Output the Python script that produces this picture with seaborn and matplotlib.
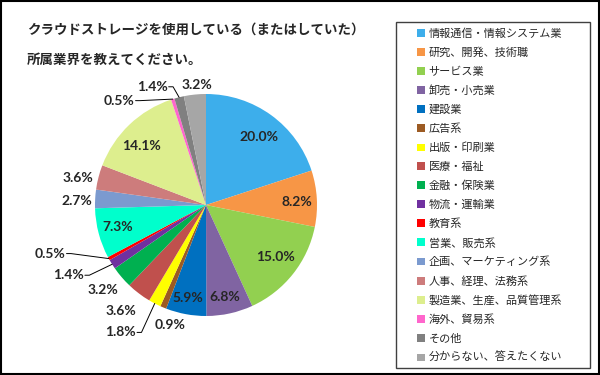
import numpy as np
import matplotlib
matplotlib.use('Agg')
import matplotlib.pyplot as plt
from matplotlib.patches import Patch, Rectangle
import seaborn as sns

sns.set_style('white')
plt.rcParams['font.family'] = ['Noto Sans CJK JP', 'DejaVu Sans']

# データ
industries = ['情報通信・情報システム業', '研究、開発、技術職', 'サービス業', '卸売・小売業',
              '建設業', '広告系', '出版・印刷業', '医療・福祉', '金融・保険業', '物流・運輸業',
              '教育系', '営業、販売系', '企画、マーケティング系', '人事、経理、法務系',
              '製造業、生産、品質管理系', '海外、貿易系', 'その他', '分からない、答えたくない']
shares = [20.0, 8.2, 15.0, 6.8, 5.9, 0.9, 1.8, 3.6, 3.2, 1.4,
          0.5, 7.3, 2.7, 3.6, 14.1, 0.5, 1.4, 3.2]
colors = ['#3DAEEB', '#F79646', '#92D050', '#8064A2', '#0070C0', '#9C5B23',
          '#FFFF00', '#C0504D', '#00B050', '#7030A0', '#FF0000', '#00FFCC',
          '#7B9ACF', '#CD7C7C', '#DDEE8E', '#FF66CC', '#808080', '#A6A6A6']

# ラベル位置の調整 (半径, 角度オフセット), 引き出し線の有無
label_r = [0.78, 0.82, 0.78, 0.85, 0.85, 1.13, 1.31, 1.23, 1.2, 1.27,
           1.34, 0.82, 1.16, 1.18, 0.79, 1.14, 1.12, 1.08]
label_off = [1.9, 1.2, -1.5, 0.7, 0.4, -6.2, 1.3, 1.6, 1.1, 2.4,
             9.8, 0.6, -1.4, -2.8, -3.6, -17.0, -4.0, 1.3]
leader = [False, False, False, False, False, False, True, False, False, True,
          True, False, False, False, False, True, True, False]

fig = plt.figure(figsize=(6, 3.75), dpi=100)
cx, cy, rad = 206, 205, 111
ax = fig.add_axes([(cx - rad) / 600, (375 - cy - rad) / 375, 2 * rad / 600, 2 * rad / 375])
ax.pie(shares, colors=colors, startangle=90, counterclock=False, radius=1,
       wedgeprops=dict(linewidth=0))
ax.set_xlim(-1, 1)
ax.set_ylim(-1, 1)
ax.axis('off')

cum = np.cumsum([0] + shares[:-1])
total = sum(shares)
for i, v in enumerate(shares):
    mid = (cum[i] + v / 2) / total * 360
    ang = np.deg2rad(mid + label_off[i])
    x = label_r[i] * np.sin(ang)
    y = label_r[i] * np.cos(ang)
    txt = f'{v:.1f}%'
    if leader[i]:
        ax.text(x, y, txt, ha='right', va='center', fontsize=10,
                fontweight='bold', family='Lato')
        m = np.deg2rad(mid)
        ex, ey = np.sin(m), np.cos(m)
        ax.plot([x + 0.01, x + 0.05, ex], [y, y, ey], color='black', lw=0.7, clip_on=False)
    else:
        ax.text(x, y, txt, ha='center', va='center', fontsize=10,
                fontweight='bold', family='Lato')

fig.text(27 / 600, 1 - 30 / 375, 'クラウドストレージを使用している（またはしていた）',
         fontsize=9.7, fontweight='bold', va='center')
fig.text(27 / 600, 1 - 60 / 375, '所属業界を教えてください。',
         fontsize=9.7, fontweight='bold', va='center')

handles = [Patch(facecolor=c, edgecolor='none') for c in colors]
leg = fig.legend(handles, industries, loc='upper left',
                 bbox_to_anchor=(417 / 600, 1 - 28 / 375), fontsize=8,
                 frameon=False, handlelength=0.7, handleheight=0.7, handletextpad=0.35,
                 labelspacing=0.77, borderpad=0.0, borderaxespad=0)

# 凡例の枠
fig.patches.append(Rectangle((396 / 600, 1 - 368 / 375), 194 / 600, 346 / 375,
                             transform=fig.transFigure, fill=False,
                             edgecolor='#404040', linewidth=1.0))
# 外枠
fig.patches.append(Rectangle((0.002, 0.003), 0.996, 0.994, transform=fig.transFigure,
                             fill=False, edgecolor='black', linewidth=1.5))

fig.savefig('out.png', dpi=100)
